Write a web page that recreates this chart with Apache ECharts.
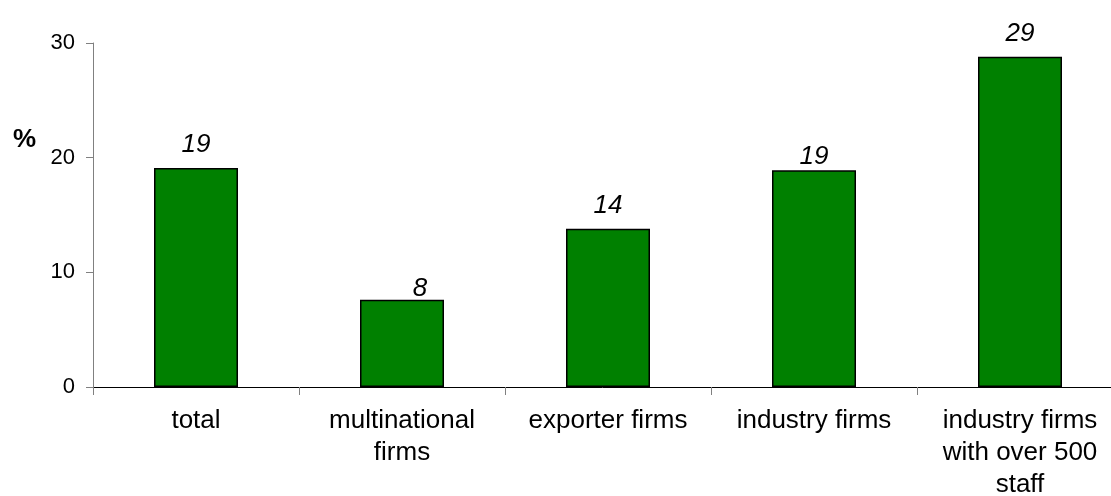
<!DOCTYPE html>
<html>
<head>
<meta charset="utf-8">
<script src="https://cdn.jsdelivr.net/npm/echarts@6/dist/echarts.min.js"></script>
<style>html,body{margin:0;padding:0;background:#fff;}#c{width:1111px;height:496px;}</style>
</head>
<body>
<div id="c"></div>
<script>
var categories = ['total', 'multinational\nfirms', 'exporter firms', 'industry firms', 'industry firms\nwith over 500\nstaff'];
var values = [19.1, 7.6, 13.8, 18.9, 28.8];
var yTicks = [0, 10, 20, 30];
var labelOffsets = [[0, 0], [18, 12], [0, 0], [0, 9], [0, 0]];

var chart = echarts.init(document.getElementById('c'), null, {renderer: 'canvas'});
var font = 'Liberation Sans, Arial, sans-serif';
chart.setOption({
  animation: false,
  grid: {left: 93, width: 1030, top: 43, bottom: 109, containLabel: false, outerBoundsMode: 'none'},
  xAxis: {
    type: 'category',
    data: categories,
    axisLine: {lineStyle: {color: '#000', width: 1}},
    axisTick: {show: true, length: 8, lineStyle: {color: '#808080'}},
    axisLabel: {color: '#000', fontSize: 26, fontFamily: font, lineHeight: 32, margin: 18, interval: 0}
  },
  yAxis: {
    type: 'value',
    min: yTicks[0], max: yTicks[yTicks.length - 1], interval: 10,
    axisLine: {show: true, lineStyle: {color: '#808080'}},
    axisTick: {show: true, length: 7, lineStyle: {color: '#808080'}},
    splitLine: {show: false},
    axisLabel: {color: '#000', fontSize: 22, fontFamily: font, margin: 18}
  },
  graphic: [{
    type: 'text', left: 13, top: 127,
    style: {text: '%', font: 'bold 26px ' + font, fill: '#000'}
  }],
  series: [{
    type: 'bar',
    barWidth: 84,
    data: values.map(function (v, i) {
      return {value: v, label: {offset: labelOffsets[i]}};
    }),
    itemStyle: {color: '#008000', borderColor: '#000', borderWidth: 1.5},
    label: {
      show: true, position: 'top', distance: 10,
      formatter: function (p) { return Math.round(p.value); },
      color: '#000', fontSize: 26, fontStyle: 'italic', fontFamily: font
    }
  }]
});
</script>
</body>
</html>
